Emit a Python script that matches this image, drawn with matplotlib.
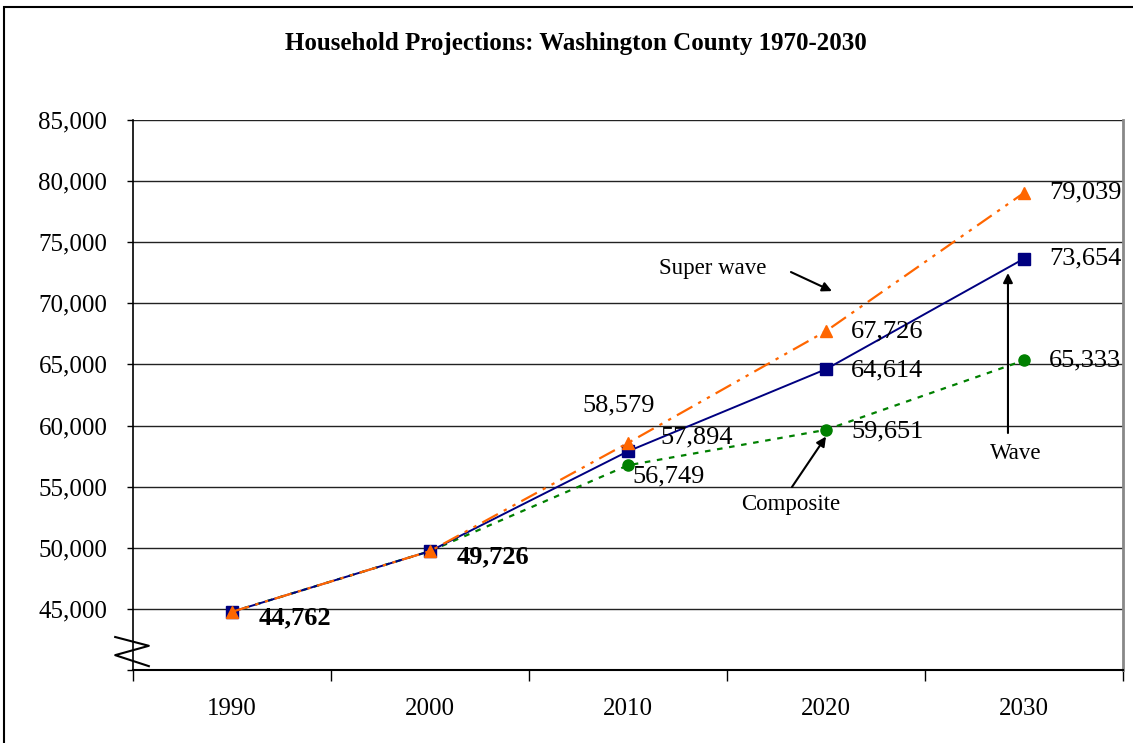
import matplotlib.pyplot as plt
from matplotlib.lines import Line2D
from matplotlib.patches import Rectangle

# Data
years = ['1990', '2000', '2010', '2020', '2030']
wave = [44762, 49726, 57894, 64614, 73654]
super_wave = [44762, 49726, 58579, 67726, 79039]
composite = [44762, 49726, 56749, 59651, 65333]

plt.rcParams['font.family'] = ['Liberation Serif', 'DejaVu Serif']

fig = plt.figure(figsize=(11.33, 7.43), dpi=100)
ax = fig.add_axes([133 / 1133, 1 - 670 / 743, 990 / 1133, 550 / 743])

x = list(range(1, len(years) + 1))

ax.plot(x, super_wave, color='#FF6600', lw=1.6, dashes=[8, 3, 1.5, 3, 1.5, 3],
        marker='^', ms=9, mec='#FF6600', zorder=4)
ax.plot(x, wave, color='#000080', lw=1.4, marker='s', ms=8, zorder=3)
ax.plot(x, composite, color='#008000', lw=1.6, dashes=[2.5, 3],
        marker='o', ms=8, zorder=2)

ax.set_xlim(0.5, 5.5)
ax.set_ylim(40000, 85000)
ax.set_yticks(range(40000, 85001, 5000))
ax.set_yticklabels([''] + ['{:,}'.format(v) for v in range(45000, 85001, 5000)])
ax.set_xticks(x)
ax.set_xticklabels(years)
ax.set_xticks([i + 0.5 for i in range(0, 6)], minor=True)
ax.tick_params(axis='x', which='major', length=0, pad=20, labelsize=18)
ax.tick_params(axis='x', which='minor', length=8, direction='out', width=1)
ax.tick_params(axis='y', length=4.5, width=1, pad=14, labelsize=18)
ax.grid(axis='y', color='#222222', lw=1)
ax.set_axisbelow(True)
ax.spines['top'].set_visible(False)
ax.spines['right'].set_color('#888888')
ax.spines['right'].set_linewidth(2)
ax.spines['left'].set_linewidth(1.2)
ax.spines['bottom'].set_linewidth(1.5)

# data labels
lbl = dict(fontsize=19, va='center', ha='left', textcoords='offset points')
ax.annotate('44,762', (1, 44762), xytext=(19, -4), fontweight='bold', **lbl)
ax.annotate('49,726', (2, 49726), xytext=(19, -4), fontweight='bold', **lbl)
ax.annotate('58,579', (3, 58579), xytext=(-33, 27), **lbl)
ax.annotate('57,894', (3, 57894), xytext=(23, 10), **lbl)
ax.annotate('56,749', (3, 56749), xytext=(3, -8), **lbl)
ax.annotate('67,726', (4, 67726), xytext=(18, 0), **lbl)
ax.annotate('64,614', (4, 64614), xytext=(18, -1), **lbl)
ax.annotate('59,651', (4, 59651), xytext=(18, -1), **lbl)
ax.annotate('79,039', (5, 79039), xytext=(18, 0), **lbl)
ax.annotate('73,654', (5, 73654), xytext=(18, 0), **lbl)
ax.annotate('65,333', (5, 65333), xytext=(18, 0), **lbl)

# series callouts (text + arrow)
arr = dict(arrowstyle='-|>', color='black', lw=1.5, mutation_scale=14,
           shrinkA=0, shrinkB=0)
ax.text(3.43, 72890, 'Super wave', fontsize=16.5, ha='center', va='center')
ax.annotate('', xy=(4.03, 71000), xytext=(3.823, 72560), arrowprops=arr)
ax.text(3.82, 53550, 'Composite', fontsize=16.5, ha='center', va='center')
ax.annotate('', xy=(4.0, 59100), xytext=(3.828, 54970), arrowprops=arr)
ax.text(4.96, 57750, 'Wave', fontsize=16.5, ha='center', va='center')
ax.annotate('', xy=(4.919, 72480), xytext=(4.919, 59390), arrowprops=arr)

# axis break zigzag
ax.add_line(Line2D([-0.018, 0.016, -0.018, 0.016], [0.06, 0.044, 0.027, 0.007],
                   transform=ax.transAxes, color='black', lw=1.5, clip_on=False))

fig.text(0.508, 0.942, 'Household Projections: Washington County 1970-2030',
         ha='center', va='center', fontsize=18, fontweight='bold')

fig.patches.append(Rectangle((4 / 1133, -0.1), 1.2, 1 - 7 / 743 + 0.1,
                             transform=fig.transFigure, fill=False, ec='black', lw=1.5))

fig.savefig('out.png', dpi=100)
